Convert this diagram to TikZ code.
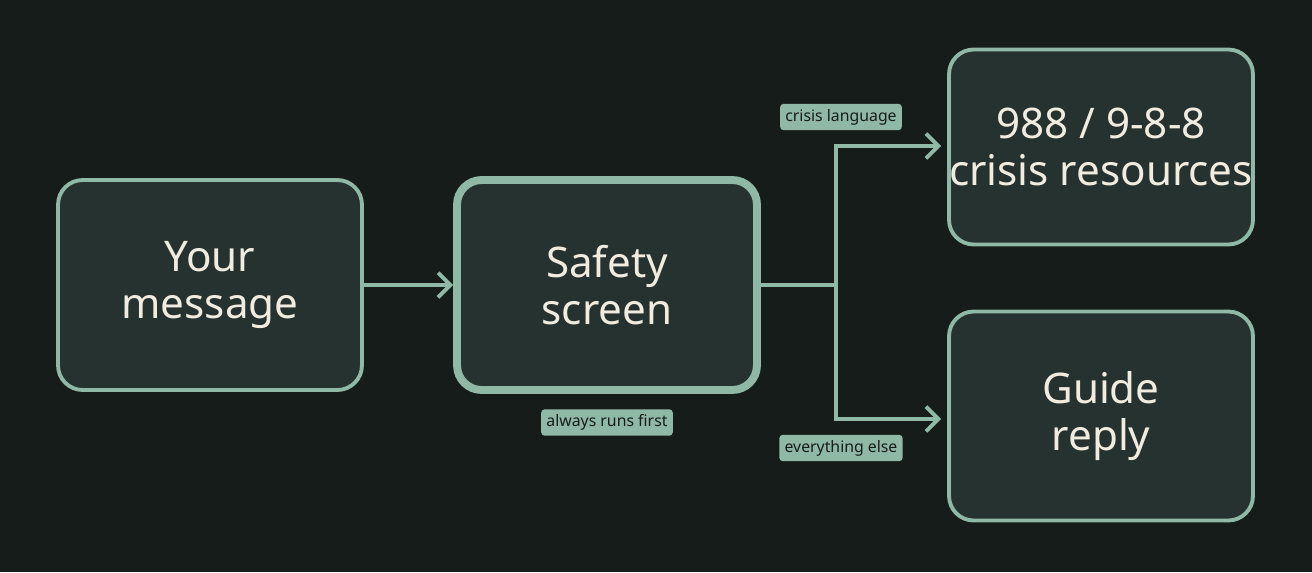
\documentclass[tikz,border=0pt]{standalone}
\usepackage{fontspec}
\setmainfont{Noto Sans}
\usetikzlibrary{positioning,arrows.meta}
\definecolor{bgcol}{HTML}{161C1A}
\definecolor{boxcol}{HTML}{263230}
\definecolor{linecol}{HTML}{8FB8A6}
\definecolor{txtcol}{HTML}{F0ECE0}
\tikzset{
  stage/.style = {draw=linecol, fill=boxcol, line width=2.2pt, rounded corners=14pt,
                 text=txtcol, align=center, inner sep=0pt,
                 font=\fontsize{24}{27}\selectfont},
  tag/.style = {fill=linecol, rounded corners=2pt, text=bgcol, inner sep=3pt,
                font=\fontsize{9}{10}\selectfont},
  flow/.style = {draw=linecol, line width=2.2pt, -{Straight Barb[length=7pt,width=14pt,line width=2.2pt]}}
}
\begin{document}
\begin{tikzpicture}[x=0.02cm, y=-0.02cm]
	\fill[bgcol] (0,0) rectangle (1312,572);

	% Boxes
	\node[stage, minimum width=6.08cm, minimum height=4.2cm] (msg) at (210,285) {Your\\message};
	\node[stage, minimum width=6cm, minimum height=4.2cm, line width=4.5pt] (screen) at (607,285) {Safety\\screen};
	\node[stage, minimum width=6.08cm, minimum height=3.9cm] (crisis) at (1101,147) {988 / 9-8-8\\crisis resources};
	\node[stage, minimum width=6.08cm, minimum height=4.18cm] (guide) at (1101,416) {Guide\\reply};

	% Branch point and arrow ends
	\coordinate (fork) at (836,285);
	\coordinate (upend) at (941,146);
	\coordinate (downend) at (941,419);

	% Connectors
	\draw[flow] (msg) -- (screen);
	\draw[draw=linecol, line width=2.2pt] (screen) -- (fork);
	\draw[flow] (fork) |- (upend);
	\draw[flow] (fork) |- (downend);

	% Tags
	\node[tag] (t1) at (841,117) {crisis language};
	\node[tag, below=0.3cm of screen] (t2) {always runs first};
	\node[tag] (t3) at (841,448) {everything else};
\end{tikzpicture}
\end{document}
